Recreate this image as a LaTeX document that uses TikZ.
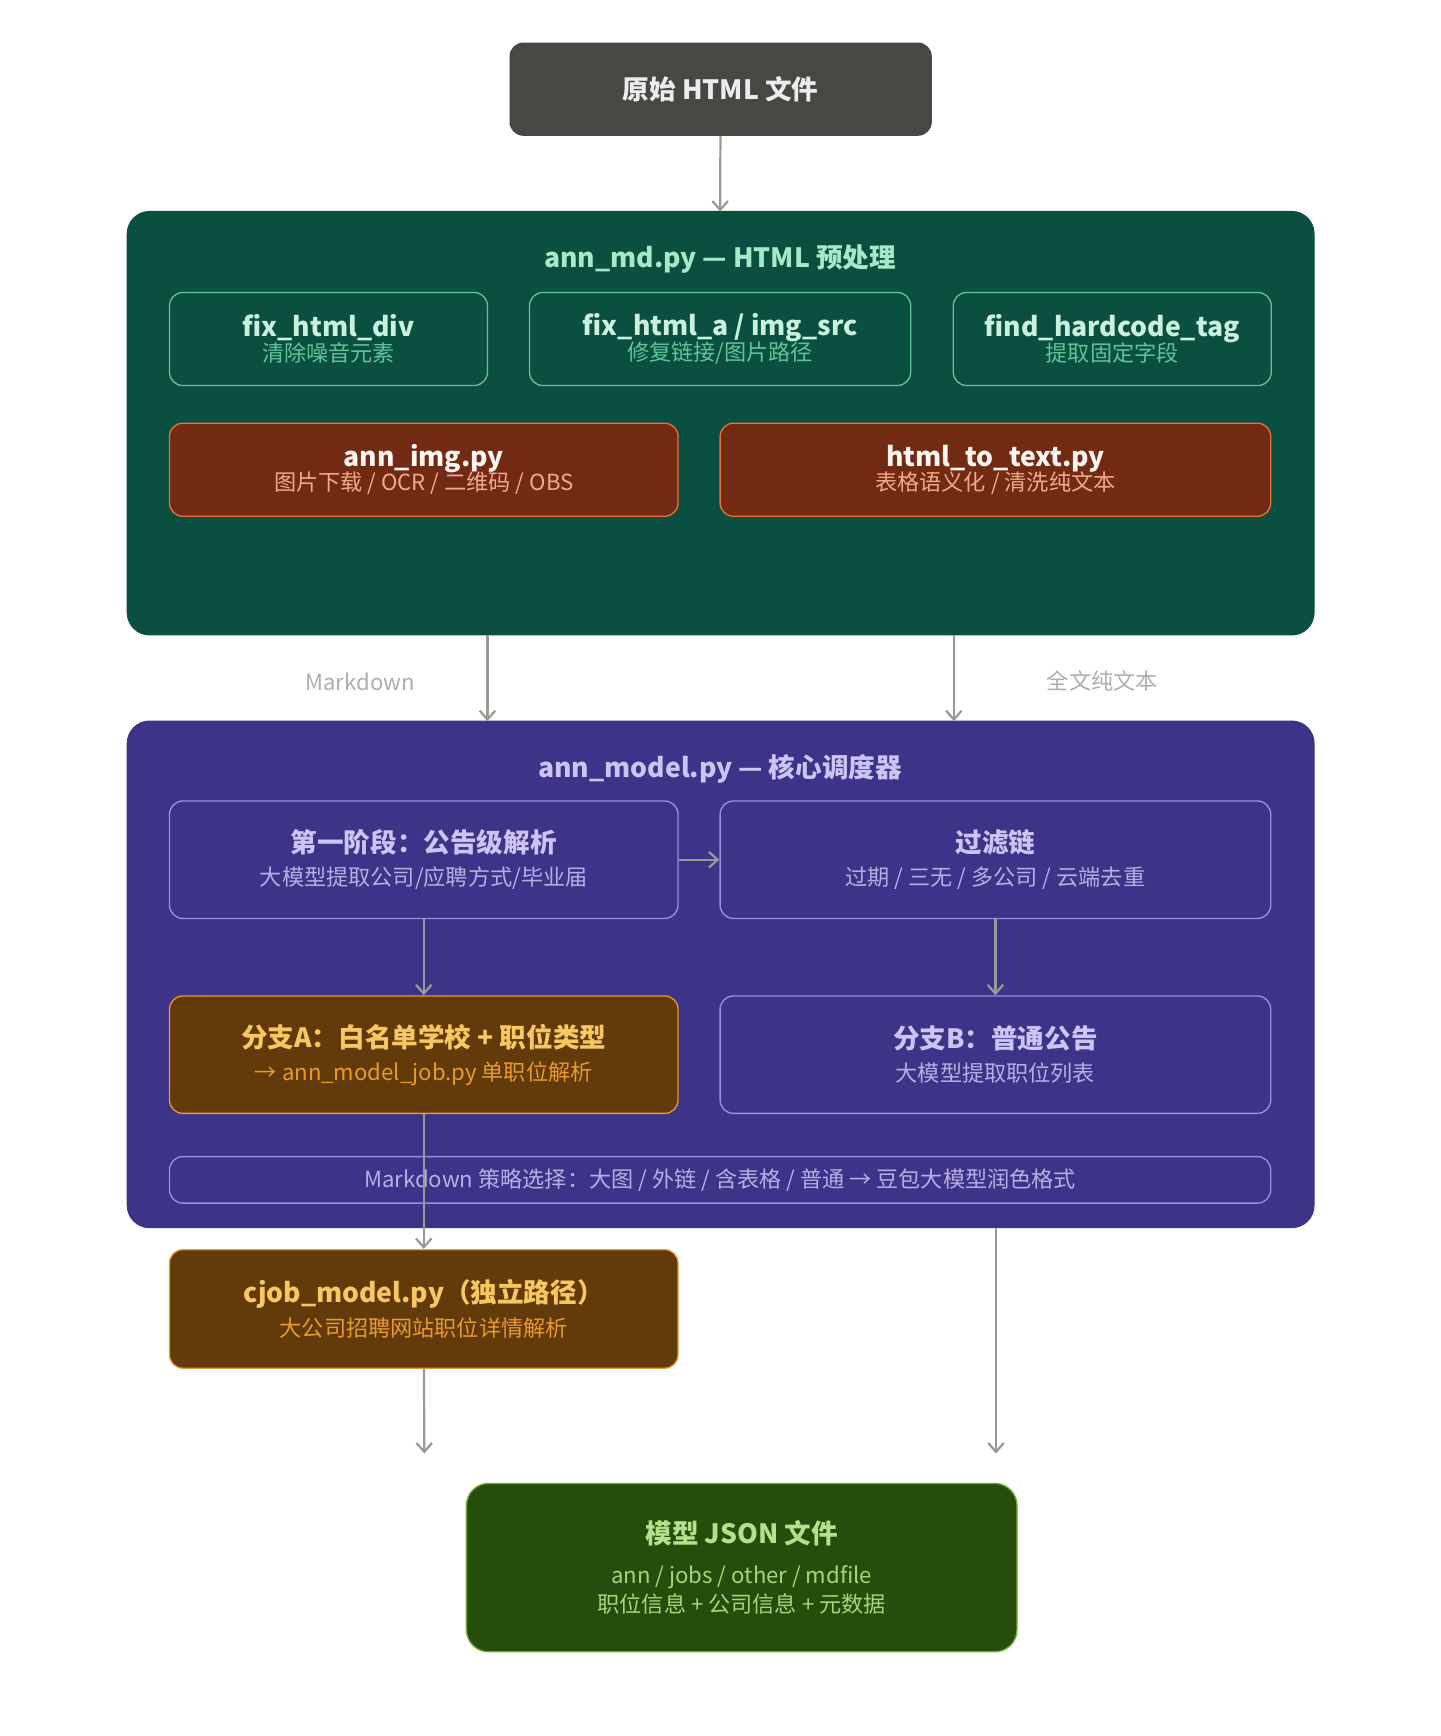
\documentclass[tikz,border=0pt]{standalone}
\usepackage{fontspec}
\setmainfont{Noto Sans CJK SC}
\usetikzlibrary{arrows.meta}
\definecolor{topfill}{HTML}{474743}
\definecolor{mdfill}{HTML}{0A4F40}
\definecolor{mdline}{HTML}{5FC49A}
\definecolor{mdtext}{HTML}{A6E8C8}
\definecolor{imgfill}{HTML}{722A13}
\definecolor{imgline}{HTML}{E8703C}
\definecolor{imgtext}{HTML}{F4A88A}
\definecolor{modfill}{HTML}{3D3388}
\definecolor{modline}{HTML}{9A90E0}
\definecolor{modtext}{HTML}{CBC4F4}
\definecolor{jobfill}{HTML}{633A0A}
\definecolor{jobline}{HTML}{E89A2C}
\definecolor{jobtext}{HTML}{F8C860}
\definecolor{outfill}{HTML}{264D0B}
\definecolor{outline}{HTML}{6FAE3A}
\definecolor{outtext}{HTML}{B4E08A}
\definecolor{arr}{HTML}{9A9A94}
\tikzset{
  box/.style={rounded corners=6pt, line width=0.6pt, inner sep=0pt, align=center},
  flow/.style={draw=arr, line width=1pt, -{Straight Barb[length=4pt,width=7pt]}},
  ttl/.style={font=\bfseries\fontsize{12}{16}\selectfont},
  sub/.style={font=\fontsize{10}{14}\selectfont},
}
\begin{document}
\begin{tikzpicture}[x=0.5pt,y=0.5pt,yscale=-1]
\useasboundingbox (0,0) rectangle (1300,1567);
% containers
\draw[box, fill=mdfill, draw=mdfill, rounded corners=10pt] (115,191) rectangle (1186,573);
\draw[box, fill=modfill, draw=modfill, rounded corners=10pt] (115,651) rectangle (1186,1108);
\node[ttl, text=mdtext] (mdtitle) at (650,234) {ann\_md.py — HTML 预处理};
\node[ttl, text=modtext] (modtitle) at (650,694) {ann\_model.py — 核心调度器};

% top input
\node[box, fill=topfill, draw=topfill, minimum width=190pt, minimum height=41.5pt, text=white!85!gray, ttl] (src) at (650.5,80.5) {原始 HTML 文件};
\coordinate (mdtop) at (650,191);
\draw[flow] (src) -- (mdtop);

% preprocessing steps
\node[box, draw=mdline, minimum width=143.5pt, minimum height=42pt] (div) at (296.5,306)
  {{\bfseries\fontsize{12}{16}\selectfont\color{mdtext!60!white}fix\_html\_div}\\[-1pt]{\fontsize{10}{14}\selectfont\color{mdline}清除噪音元素}};
\node[box, draw=mdline, minimum width=172pt, minimum height=42pt] (fixa) at (650,306)
  {{\bfseries\fontsize{12}{16}\selectfont\color{mdtext!60!white}fix\_html\_a / img\_src}\\[-1pt]{\fontsize{10}{14}\selectfont\color{mdline}修复链接/图片路径}};
\node[box, draw=mdline, minimum width=143.5pt, minimum height=42pt] (hard) at (1004,306)
  {{\bfseries\fontsize{12}{16}\selectfont\color{mdtext!60!white}find\_hardcode\_tag}\\[-1pt]{\fontsize{10}{14}\selectfont\color{mdline}提取固定字段}};
\node[box, fill=imgfill, draw=imgline, minimum width=229.5pt, minimum height=42pt] (img) at (382.5,424)
  {{\bfseries\fontsize{12}{16}\selectfont\color{white!90!imgtext}ann\_img.py}\\[-1pt]{\fontsize{10}{14}\selectfont\color{imgtext}图片下载 / OCR / 二维码 / OBS}};
\node[box, fill=imgfill, draw=imgline, minimum width=248.5pt, minimum height=42pt] (totext) at (898.5,424)
  {{\bfseries\fontsize{12}{16}\selectfont\color{white!90!imgtext}html\_to\_text.py}\\[-1pt]{\fontsize{10}{14}\selectfont\color{imgtext}表格语义化 / 清洗纯文本}};

% hand-over to the dispatcher
\coordinate (mdA) at (440,573);
\coordinate (modA) at (440,651);
\coordinate (mdB) at (861,573);
\coordinate (modB) at (861,651);
\draw[flow] (mdA) -- (modA);
\draw[flow] (mdB) -- (modB);
\node[sub, text=arr!80!white] (lblmd) at (325,615) {Markdown};
\node[sub, text=arr!80!white] (lbltxt) at (995,615) {全文纯文本};

% dispatcher stages
\node[box, draw=modline, minimum width=229.5pt, minimum height=53pt] (stage) at (382.5,776)
  {{\bfseries\fontsize{12}{16}\selectfont\color{modtext}第一阶段：公告级解析}\\[3pt]{\fontsize{10}{14}\selectfont\color{modtext!85!modfill}大模型提取公司/应聘方式/毕业届}};
\node[box, draw=modline, minimum width=248.5pt, minimum height=53pt] (filter) at (898.5,776)
  {{\bfseries\fontsize{12}{16}\selectfont\color{modtext}过滤链}\\[3pt]{\fontsize{10}{14}\selectfont\color{modtext!85!modfill}过期 / 三无 / 多公司 / 云端去重}};
\node[box, fill=jobfill, draw=jobline, minimum width=229.5pt, minimum height=53pt] (brA) at (382.5,952)
  {{\bfseries\fontsize{12}{16}\selectfont\color{jobtext}分支A：白名单学校 + 职位类型}\\[3pt]{\fontsize{10}{14}\selectfont\color{jobline}→ ann\_model\_job.py 单职位解析}};
\node[box, draw=modline, minimum width=248.5pt, minimum height=53pt] (brB) at (898.5,952)
  {{\bfseries\fontsize{12}{16}\selectfont\color{modtext}分支B：普通公告}\\[3pt]{\fontsize{10}{14}\selectfont\color{modtext!85!modfill}大模型提取职位列表}};
\node[box, draw=modline, minimum width=497pt, minimum height=21pt, sub, text=modtext!85!modfill] (strat) at (650,1065)
  {\raisebox{-3pt}{Markdown 策略选择：大图 / 外链 / 含表格 / 普通 → 豆包大模型润色格式}};
\draw[flow] (stage.east) -- (filter.west);
\draw[flow] (stage) -- (brA);
\draw[flow] (filter) -- (brB);

% independent path
\node[box, fill=jobfill, draw=jobline, minimum width=229.5pt, minimum height=53.5pt] (cjob) at (382.5,1181.5)
  {{\bfseries\fontsize{12}{16}\selectfont\color{jobtext}cjob\_model.py（独立路径）}\\[3pt]{\fontsize{10}{14}\selectfont\color{jobline}大公司招聘网站职位详情解析}};
\draw[flow] (brA) -- (cjob);

% output
\coordinate (modbot) at (899,1108);
\coordinate (endA) at (383,1312);
\coordinate (endB) at (899,1312);
\draw[flow] (cjob) -- (endA);
\draw[flow] (modbot) -- (endB);
\node[box, fill=outfill, draw=outline, rounded corners=10pt, minimum width=248.5pt, minimum height=76pt] (json) at (669.5,1415)
  {{\bfseries\fontsize{12}{16}\selectfont\color{outtext}模型 JSON 文件}\\[6pt]{\fontsize{10}{14}\selectfont\color{outtext!80!outline}ann / jobs / other / mdfile}\\[1pt]{\fontsize{10}{14}\selectfont\color{outtext!80!outline}职位信息 + 公司信息 + 元数据}};
\end{tikzpicture}
\end{document}
